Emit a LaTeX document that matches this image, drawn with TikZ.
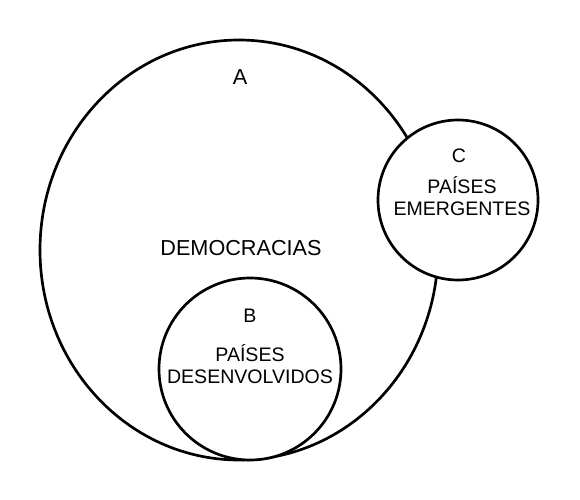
\documentclass[tikz,border=0pt]{standalone}
\usepackage{fontspec}
\setmainfont{Liberation Sans}

\begin{document}
\begin{tikzpicture}[x=0.025cm, y=-0.025cm]

% Cores
\definecolor{linhaConj}{HTML}{000000}

% Estilos
\tikzset{
  conjunto/.style={draw=linhaConj, line width=1.9pt, fill=white},
  rotGrande/.style={anchor=base, inner sep=0pt, font=\fontsize{15.4}{16}\selectfont},
  rotPequeno/.style={anchor=base, inner sep=0pt, align=center, font=\fontsize{13.9}{15}\selectfont}
}

\useasboundingbox (0,0) rectangle (580,500);

% Conjunto A - democracias
\draw[conjunto] (239,250) ellipse [x radius=199, y radius=210];

% Conjunto B - paises desenvolvidos
\draw[conjunto] (250,369) circle (91);

% Conjunto C - paises emergentes
\draw[conjunto] (458,200) circle (80);

% Rotulos
\node[rotGrande] (rotA) at (240,84) {A};
\node[rotGrande] (rotDemocracias) at (241,255) {DEMOCRACIAS};

\node[rotPequeno] (rotB) at (250,322.7) {B};
\node[rotPequeno] (rotDesenv) at (250,383) {PAÍSES\\DESENVOLVIDOS};

\node[rotPequeno] (rotC) at (459,162.7) {C};
\node[rotPequeno] (rotEmerg) at (462,215) {PAÍSES\\EMERGENTES};

\end{tikzpicture}
\end{document}
